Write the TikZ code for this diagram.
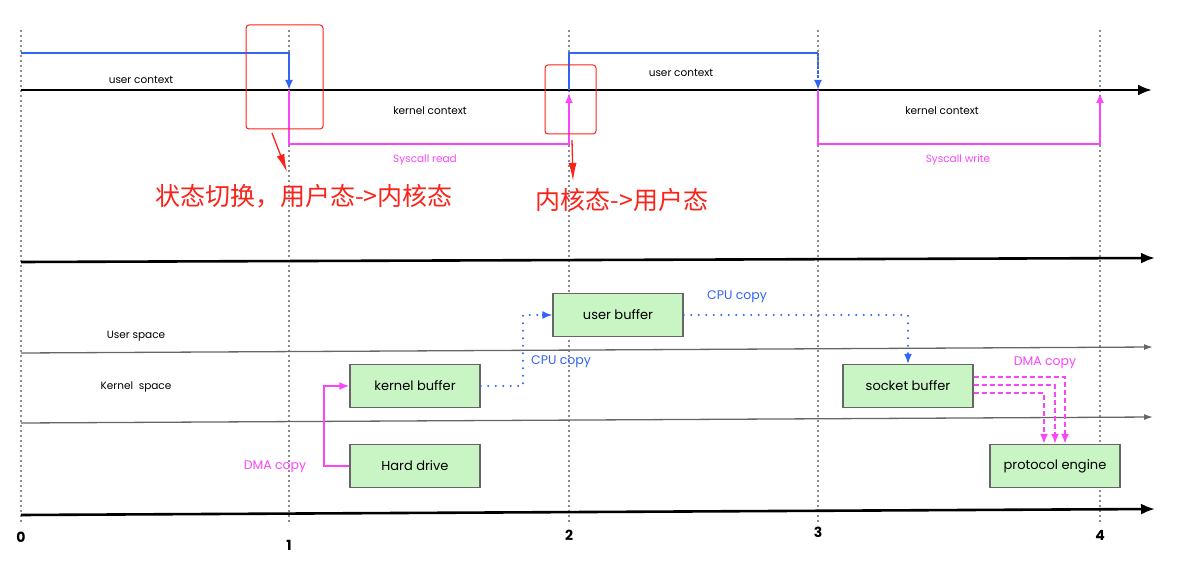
\documentclass[tikz,border=0pt]{standalone}
\usepackage{fontspec}
\setmainfont{Poppins}
\newfontfamily\cjk{Noto Sans CJK SC}
\usetikzlibrary{arrows.meta}
\definecolor{userblue}{RGB}{50,100,245}
\definecolor{kernpink}{RGB}{250,70,250}
\definecolor{bufgreen}{RGB}{200,245,195}
\definecolor{notered}{RGB}{250,35,25}

\begin{document}
\begin{tikzpicture}[x=1pt,y=-1pt,
        grid/.style={black!45, line width=1.7pt, dash pattern=on 2pt off 3pt},
        axis/.style={line width=2.6pt, -{Latex[length=14pt,width=11pt]}},
        lane/.style={gray!80!black, line width=1.3pt, -{Latex[length=9pt,width=6pt]}},
        userline/.style={userblue, line width=2.4pt},
        kernline/.style={kernpink, line width=2.2pt},
        tip/.style={-{Latex[length=10pt,width=8pt]}},
        cpuline/.style={userblue, line width=2.2pt, line cap=round, dash pattern=on 0pt off 7.5pt},
        dmaline/.style={kernpink, line width=1.8pt},
        buf/.style={draw=black!60, fill=bufgreen, line width=1.4pt, minimum width=130pt, minimum height=43pt, font=\fontsize{13}{15}\selectfont},
        lbl/.style={font=\fontsize{10.5}{12}\selectfont},
        copylbl/.style={font=\fontsize{12.5}{14}\selectfont},
        ticklbl/.style={font=\fontsize{14}{16}\selectfont\bfseries},
        swbox/.style={draw=notered, rounded corners=3pt, line width=1pt},
        note/.style={notered, font=\cjk\fontsize{25}{28}\selectfont},
        notearrow/.style={notered, line width=1.3pt, -{Latex[length=18pt,width=8pt]}}]
    \useasboundingbox (0,0) rectangle (1183,561);
    \foreach \x/\n/\y in {21/0/537, 289/1/545, 569/2/535, 818/3/532, 1100/4/535} {
        \draw[grid] (\x,30) -- (\x,525);
        \node[ticklbl] (tick\n) at (\x,\y) {\n};
    }
    \coordinate (u0) at (21,53);
    \coordinate (u1) at (289,53);
    \coordinate (s0) at (21,90);
    \coordinate (s1) at (289,90);
    \coordinate (s2) at (569,90);
    \coordinate (s2b) at (569,93);
    \coordinate (u2) at (569,53);
    \coordinate (u3) at (818,53);
    \coordinate (s3) at (818,90);
    \coordinate (s4) at (1100,93);
    \coordinate (k1) at (289,144);
    \coordinate (k2) at (569,144);
    \coordinate (k3) at (818,144);
    \coordinate (k4) at (1100,144);
    \coordinate (send) at (1152,90);
    \draw[axis] (s0) -- (send);
    \draw[userline, tip] (u0) -- (u1) -- (s1);
    \draw[kernline, tip] (s1) -- (k1) -- (k2) -- (s2b);
    \draw[userline] (s2) -- (u2) -- (u3);
    \draw[userline, tip, dash pattern=on 3pt off 1.5pt] (u3) -- (s3);
    \draw[kernline, tip] (s3) -- (k3) -- (k4) -- (s4);
    \node[lbl] (uctx1) at (141,80) {user context};
    \node[lbl] (kctx1) at (430,111) {kernel context};
    \node[lbl, kernpink] (sysread) at (425,160) {Syscall read};
    \node[lbl] (uctx2) at (681,73) {user context};
    \node[lbl] (kctx2) at (942,111) {kernel context};
    \node[lbl, kernpink] (syswrite) at (958,160) {Syscall write};
    \node[swbox, minimum width=77pt, minimum height=104pt] (swa) at (284.5,77) {};
    \node[swbox, minimum width=51pt, minimum height=69pt] (swb) at (570.5,99.5) {};
    \node[note] (notea) at (304,196) {状态切换，用户态->内核态};
    \node[note] (noteb) at (622,200) {内核态->用户态};
    \coordinate (na0) at (272,133);
    \coordinate (na1) at (287,172);
    \coordinate (nb0) at (572,140);
    \coordinate (nb1) at (573,181);
    \draw[notearrow] (na0) -- (na1);
    \draw[notearrow] (nb0) -- (nb1);
    \coordinate (b0) at (21,262);
    \coordinate (bend) at (1155,258);
    \coordinate (ul0) at (21,353);
    \coordinate (ulend) at (1153,347);
    \coordinate (kl0) at (21,423);
    \coordinate (klend) at (1153,417);
    \coordinate (t0) at (21,515);
    \coordinate (tend) at (1155,509);
    \draw[axis] (b0) -- (bend);
    \draw[lane] (ul0) -- (ulend);
    \draw[lane] (kl0) -- (klend);
    \draw[axis] (t0) -- (tend);
    \node[lbl] (uspace) at (136,336) {User space};
    \node[lbl] (kspace) at (136,387) {Kernel\ \ space};
    \node[buf] (kbuf) at (415,386) {kernel buffer};
    \node[buf] (hdd) at (415,466) {Hard drive};
    \node[buf] (ubuf) at (618,315) {user buffer};
    \node[buf] (sbuf) at (908,386) {socket buffer};
    \node[buf] (proto) at (1055,466) {protocol engine};
    \coordinate (dmaturn) at (324,466);
    \coordinate (cputurn) at (523,386);
    \draw[dmaline, tip] (hdd.west) -- (dmaturn) |- (kbuf.west);
    \draw[cpuline] (kbuf.east) -- (cputurn) |- ([xshift=-9pt]ubuf.west);
    \draw[userblue, tip, line width=1.5pt] ([xshift=-10pt]ubuf.west) -- (ubuf.west);
    \draw[cpuline] (ubuf.east) -| ([yshift=9pt]sbuf.north);
    \draw[userblue, tip, line width=1.5pt] ([yshift=10pt]sbuf.north) -- (sbuf.north);
    \draw[dmaline, tip, dash pattern=on 5pt off 3pt] ([yshift=9pt]sbuf.east) -| ([xshift=10pt]proto.north);
    \draw[dmaline, tip, dash pattern=on 5pt off 3pt] ([yshift=1pt]sbuf.east) -| (proto.north);
    \draw[dmaline, tip, dash pattern=on 5pt off 3pt] ([yshift=-7pt]sbuf.east) -| ([xshift=-11pt]proto.north);
    \node[copylbl, kernpink] (dmaa) at (275,467) {DMA copy};
    \node[copylbl, userblue] (cpua) at (561,362) {CPU copy};
    \node[copylbl, userblue] (cpub) at (737,297) {CPU copy};
    \node[copylbl, kernpink] (dmab) at (1045,363) {DMA copy};
\end{tikzpicture}
\end{document}
